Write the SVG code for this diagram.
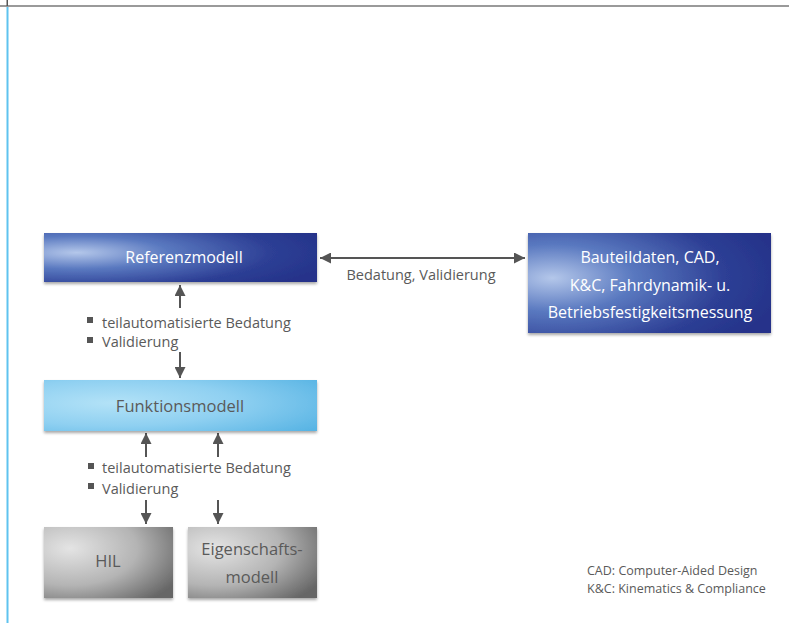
<svg xmlns="http://www.w3.org/2000/svg" width="789" height="623" viewBox="0 0 789 623">
<style>
.t{font-family:"Open Sans","Liberation Sans",sans-serif;}
.w{fill:#ffffff;font-size:16px;text-anchor:middle;}
.g{fill:#5a5a5a;font-size:16.5px;text-anchor:middle;}
.l{fill:#5a5a5a;font-size:14.5px;}
.f{fill:#5a5a5a;font-size:12.5px;}
.c{stroke:#555555;stroke-width:2;fill:none;}
</style>
<defs>
<radialGradient id="gBlue" cx="0.12" cy="0.4" r="0.95" fx="0.12" fy="0.4">
<stop offset="0" stop-color="#b4c7ea"/>
<stop offset="0.35" stop-color="#5a79c0"/>
<stop offset="0.75" stop-color="#2d3f95"/>
<stop offset="1" stop-color="#25338a"/>
</radialGradient>
<radialGradient id="gBlue2" cx="0.1" cy="0.45" r="0.95" fx="0.1" fy="0.45">
<stop offset="0" stop-color="#b4c7ea"/>
<stop offset="0.35" stop-color="#5a79c0"/>
<stop offset="0.75" stop-color="#2d3f95"/>
<stop offset="1" stop-color="#25338a"/>
</radialGradient>
<radialGradient id="gCyan" cx="0.25" cy="0.45" r="0.9">
<stop offset="0" stop-color="#b3e2f7"/>
<stop offset="0.5" stop-color="#8fd0f1"/>
<stop offset="1" stop-color="#58b4e4"/>
</radialGradient>
<radialGradient id="gGray" cx="0.2" cy="0.3" r="0.95">
<stop offset="0" stop-color="#e4e4e4"/>
<stop offset="0.55" stop-color="#b4b4b4"/>
<stop offset="1" stop-color="#666666"/>
</radialGradient>
<filter id="sh" x="-10%" y="-20%" width="120%" height="150%">
<feGaussianBlur in="SourceAlpha" stdDeviation="1.5"/>
<feOffset dx="0" dy="2" result="b"/>
<feComponentTransfer><feFuncA type="linear" slope="0.35"/></feComponentTransfer>
<feMerge><feMergeNode/><feMergeNode in="SourceGraphic"/></feMerge>
</filter>
<marker id="ah" viewBox="0 0 10 10" refX="10" refY="5" markerWidth="5.5" markerHeight="5.5" orient="auto-start-reverse" markerUnits="strokeWidth">
<path d="M0,0 L10,5 L0,10 z" fill="#555555"/>
</marker>
</defs>

<g id="frame">
<rect x="0" y="5" width="789" height="2" fill="#9a9a9a"/>
<rect x="6.5" y="7" width="2" height="616" fill="#5fc3ef"/>
<rect x="6.5" y="0" width="1.5" height="6" fill="#555555"/>
</g>

<g id="connectors">
<line class="c" x1="180" y1="308" x2="180" y2="285" marker-end="url(#ah)"/>
<line class="c" x1="180" y1="352" x2="180" y2="378" marker-end="url(#ah)"/>
<line class="c" x1="146" y1="457" x2="146" y2="433" marker-end="url(#ah)"/>
<line class="c" x1="218" y1="457" x2="218" y2="433" marker-end="url(#ah)"/>
<line class="c" x1="146" y1="500" x2="146" y2="524" marker-end="url(#ah)"/>
<line class="c" x1="218" y1="500" x2="218" y2="524" marker-end="url(#ah)"/>
<line class="c" x1="320" y1="258" x2="525" y2="258" marker-start="url(#ah)" marker-end="url(#ah)"/>
<text class="t l" x="421" y="280" text-anchor="middle">Bedatung, Validierung</text>
<g id="labels1">
<rect x="87" y="317" width="6" height="6" fill="#555555"/>
<text class="t l" x="102" y="328">teilautomatisierte Bedatung</text>
<rect x="87" y="337" width="6" height="6" fill="#555555"/>
<text class="t l" x="102" y="347">Validierung</text>
</g>
<g id="labels2">
<rect x="88" y="463" width="6" height="6" fill="#555555"/>
<text class="t l" x="102" y="473">teilautomatisierte Bedatung</text>
<rect x="88" y="483" width="6" height="6" fill="#555555"/>
<text class="t l" x="102" y="494">Validierung</text>
</g>
</g>

<g id="referenzmodell">
<rect x="44" y="233" width="273" height="49" fill="url(#gBlue)" filter="url(#sh)"/>
<text class="t w" x="184" y="263">Referenzmodell</text>
</g>

<g id="bauteildaten">
<rect x="528" y="233" width="243" height="100" fill="url(#gBlue2)" filter="url(#sh)"/>
<text class="t w" x="650" y="263">Bauteildaten, CAD,</text>
<text class="t w" x="650" y="291">K&amp;C, Fahrdynamik- u.</text>
<text class="t w" x="650" y="318">Betriebsfestigkeitsmessung</text>
</g>

<g id="funktionsmodell">
<rect x="44" y="380" width="273" height="51" fill="url(#gCyan)" filter="url(#sh)"/>
<text class="t g" x="180" y="412">Funktionsmodell</text>
</g>

<g id="hil">
<rect x="44" y="527" width="129" height="71" fill="url(#gGray)" filter="url(#sh)"/>
<text class="t g" x="108" y="567">HIL</text>
</g>

<g id="eigenschaftsmodell">
<rect x="188" y="527" width="129" height="71" fill="url(#gGray)" filter="url(#sh)"/>
<text class="t g" x="252" y="555">Eigenschafts-</text>
<text class="t g" x="252" y="583">modell</text>
</g>

<g id="footnote">
<text class="t f" x="587" y="575">CAD: Computer-Aided Design</text>
<text class="t f" x="587" y="593">K&amp;C: Kinematics &amp; Compliance</text>
</g>
</svg>
